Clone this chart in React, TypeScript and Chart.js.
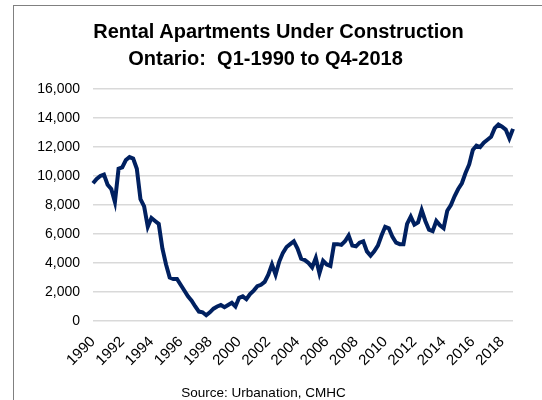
import React, { useEffect, useRef } from "react";
import { Chart, registerables } from "chart.js";

Chart.register(...registerables);

const startYear = 1990;
const endYear = 2018;
const quarters: string[] = [];
for (let y = startYear; y <= endYear; y++) {
  for (let q = 1; q <= 4; q++) quarters.push(`Q${q}-${y}`);
}

const underConstruction = [
  9500, 9800, 10000, 10100, 9400, 9100, 8200, 10500, 10600, 11100, 11300, 11200,
  10500, 8400, 7900, 6500, 7100, 6900, 6700, 5000, 3900, 3000, 2900, 2900,
  2500, 2100, 1700, 1400, 1000, 650, 600, 400, 600, 850, 1000, 1100,
  950, 1100, 1250, 1000, 1600, 1700, 1500, 1850, 2100, 2400, 2500, 2700,
  3200, 3900, 3200, 4100, 4700, 5100, 5300, 5500, 5000, 4300, 4200, 4000,
  3700, 4350, 3300, 4150, 3900, 3800, 5300, 5300, 5250, 5500, 5900, 5200,
  5150, 5400, 5500, 4800, 4500, 4800, 5200, 5900, 6500, 6400, 5800, 5400,
  5300, 5300, 6700, 7200, 6650, 6800, 7650, 6900, 6300, 6200, 6900, 6600,
  6400, 7600, 8000, 8600, 9100, 9500, 10200, 10800, 11800, 12100, 12000, 12300,
  12500, 12700, 13300, 13550, 13400, 13200, 12600, 13250,
];

const titleLine1 = "Rental Apartments Under Construction";
const titleLine2 = "Ontario:  Q1-1990 to Q4-2018";
const sourceText = "Source: Urbanation, CMHC";

export default function App() {
  const canvasRef = useRef<HTMLCanvasElement | null>(null);

  useEffect(() => {
    if (!canvasRef.current) return;
    const chart = new Chart(canvasRef.current, {
      type: "line",
      data: {
        labels: quarters,
        datasets: [
          {
            data: underConstruction,
            borderColor: "#002060",
            borderWidth: 4,
            pointRadius: 0,
            tension: 0,
            fill: false,
          },
        ],
      },
      options: {
        responsive: false,
        animation: false,
        layout: { padding: { left: 0, right: 29, top: 89, bottom: 29 } },
        plugins: {
          legend: { display: false },
          title: { display: false },
          tooltip: { enabled: false },
        },
        scales: {
          x: {
            type: "category",
            offset: false,
            grid: { display: false },
            border: { display: false },
            ticks: {
              autoSkip: false,
              maxRotation: 45,
              minRotation: 45,
              padding: 4,
              color: "#000",
              font: { family: "'Liberation Sans', Arial, sans-serif", size: 15 },
              callback: (_v: any, i: number) => {
                const year = startYear + Math.floor(i / 4);
                return i % 8 === 0 ? String(year) : null;
              },
            },
            afterFit: (scale: any) => {
              scale.height = 50;
            },
          },
          y: {
            min: 0,
            max: 16000,
            ticks: {
              stepSize: 2000,
              padding: 13,
              color: "#000",
              font: { family: "'Liberation Sans', Arial, sans-serif", size: 14 },
              callback: (v: any) => Number(v).toLocaleString("en-US"),
            },
            grid: { color: "#d9d9d9", lineWidth: 1.5, drawTicks: false },
            border: { display: false },
            afterFit: (scale: any) => {
              scale.width = 93;
            },
          },
        },
      },
    });
    return () => chart.destroy();
  }, []);

  const titleFont = "'Liberation Sans', Arial, sans-serif";

  return (
    <div style={{ position: "fixed", left: 0, top: 0, width: 542, height: 400, background: "#fff", overflow: "hidden" }}>
      <div
        style={{
          position: "absolute",
          left: 13,
          top: 5,
          width: 600,
          height: 500,
          borderLeft: "1px solid #808080",
          borderTop: "1px solid #808080",
        }}
      />
      <canvas ref={canvasRef} width={542} height={400} style={{ position: "absolute", left: 0, top: 0 }} />
      <div
        style={{
          position: "absolute",
          left: 0,
          top: 21,
          width: 557,
          textAlign: "center",
          fontFamily: titleFont,
          fontWeight: "bold",
          fontSize: 20,
          lineHeight: "20px",
          color: "#000",
          whiteSpace: "nowrap",
        }}
      >
        {titleLine1}
      </div>
      <div
        style={{
          position: "absolute",
          left: 0,
          top: 48,
          width: 531,
          textAlign: "center",
          fontFamily: titleFont,
          fontWeight: "bold",
          fontSize: 20,
          lineHeight: "20px",
          color: "#000",
          whiteSpace: "pre",
        }}
      >
        {titleLine2}
      </div>
      <div
        style={{
          position: "absolute",
          left: 0,
          top: 386,
          width: 527,
          textAlign: "center",
          fontFamily: "'Liberation Sans', Arial, sans-serif",
          fontSize: 13.5,
          lineHeight: "13px",
          color: "#000",
          whiteSpace: "nowrap",
        }}
      >
        {sourceText}
      </div>
    </div>
  );
}
